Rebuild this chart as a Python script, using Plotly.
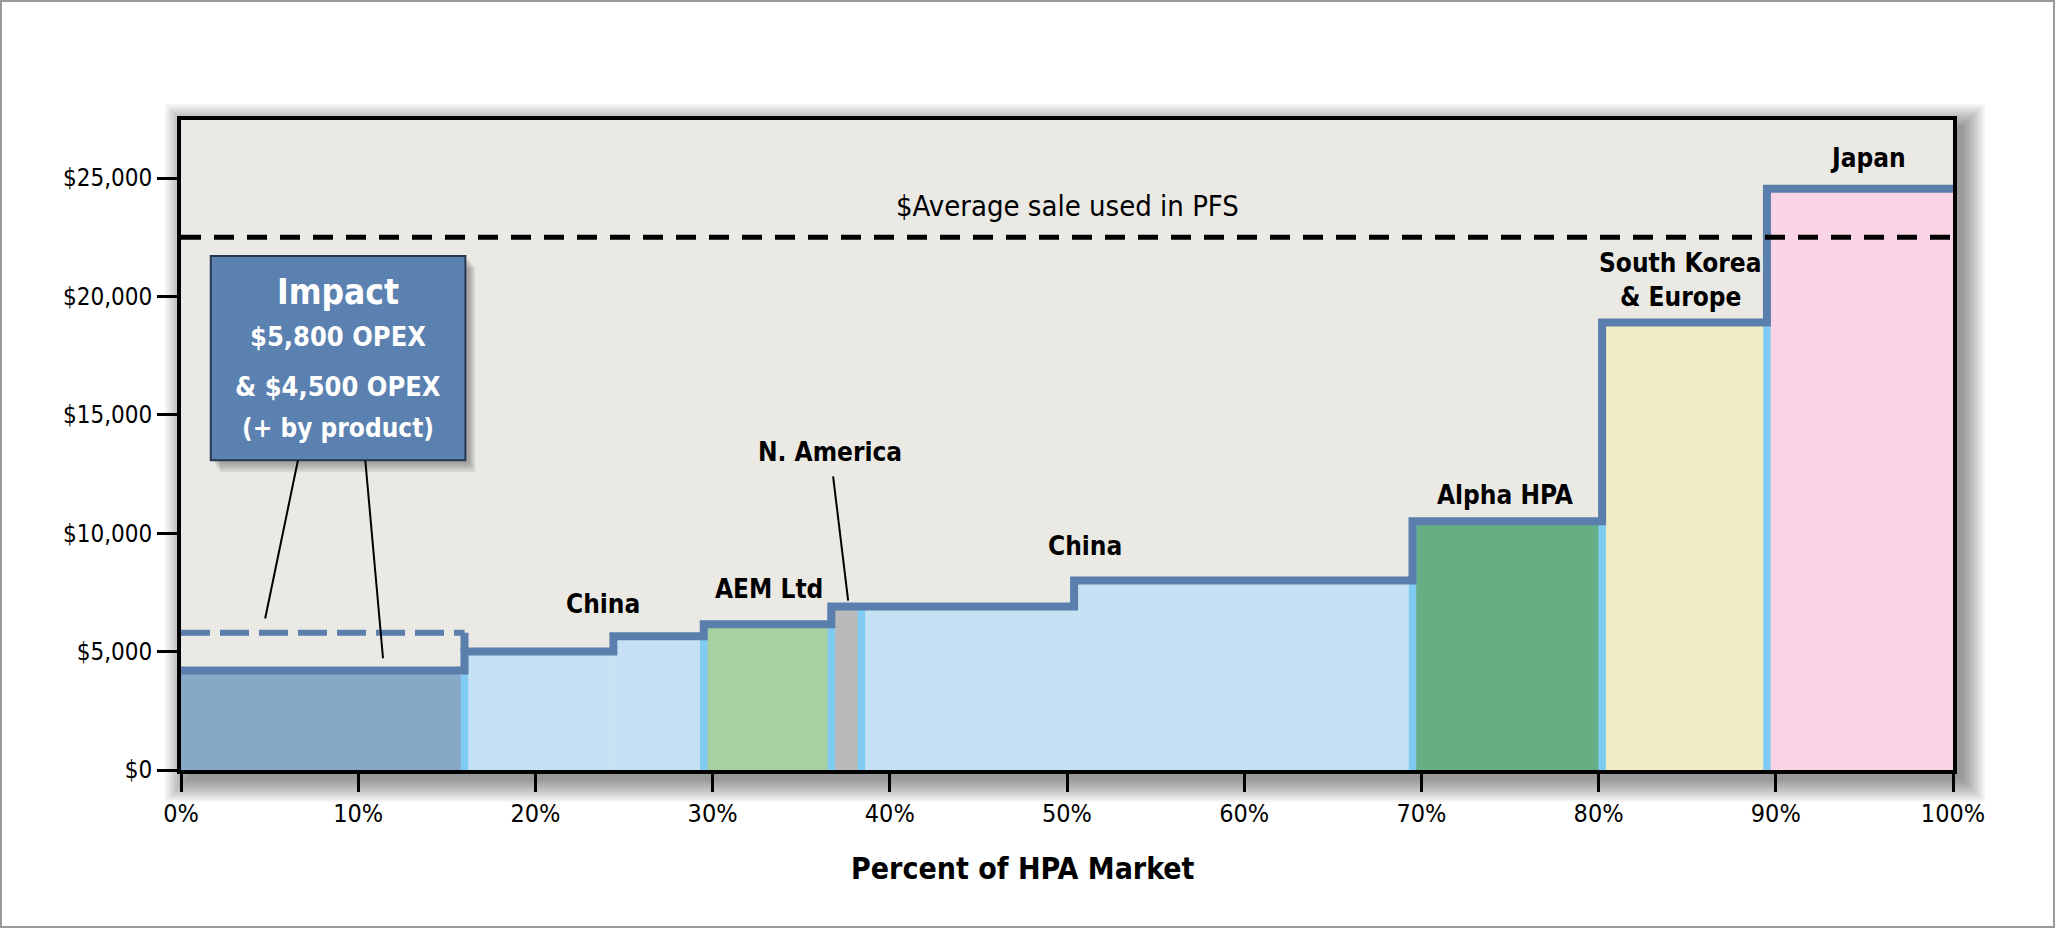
import plotly.graph_objects as go

# price steps: start of each step (% of HPA market), price ($) and supplier group
seg_start = [0, 16, 24.4, 29.5, 36.7, 38.4, 50.4, 69.5, 80.2, 89.5]
seg_end = seg_start[1:] + [100]
seg_price = [4200, 5000, 5650, 6150, 6900, 6900, 8000, 10500, 18900, 24550]
seg_region = ["Impact", "China", "China", "AEM Ltd", "N. America", "China", "China",
              "Alpha HPA", "South Korea & Europe", "Japan"]

region_colors = {
    "Impact": "#88a8c8",
    "China": "#c5e1f3",
    "AEM Ltd": "#a5d2a0",
    "N. America": "#b9b9b9",
    "Alpha HPA": "#66ae84",
    "South Korea & Europe": "#f0ecc4",
    "Japan": "#f9d3e6",
}

avg_sale = 22500          # $Average sale used in PFS
impact_opex = 5800        # Impact before by-product credit

y_ticks = [0, 5000, 10000, 15000, 20000, 25000]
y_tick_text = ["$0", "$5,000", "$10,000", "$15,000", "$20,000", "$25,000"]
x_ticks = [0, 10, 20, 30, 40, 50, 60, 70, 80, 90, 100]
x_tick_text = ["0%", "10%", "20%", "30%", "40%", "50%", "60%", "70%", "80%", "90%", "100%"]

# region labels: text, x (%), y ($)
labels = [
    ("China", 23.8, 7000),
    ("AEM Ltd", 33.2, 7650),
    ("N. America", 36.6, 13450),
    ("China", 51.0, 9480),
    ("Alpha HPA", 74.7, 11600),
    ("South Korea", 84.6, 21430),
    ("& Europe", 84.6, 19990),
    ("Japan", 95.2, 25830),
]

NARROW = "Liberation Sans Narrow, Arial Narrow, DejaVu Sans Condensed, sans-serif"
STEP_BLUE = "#5a7fac"

fig = go.Figure()

# coloured blocks
fig.add_trace(go.Bar(
    x=[(a + b) / 2 for a, b in zip(seg_start, seg_end)],
    width=[b - a for a, b in zip(seg_start, seg_end)],
    y=seg_price,
    marker=dict(color=[region_colors[r] for r in seg_region], line=dict(width=0)),
    hoverinfo="skip",
))

# light blue separators where the supplier changes
sep_x, sep_y = [], []
for i in range(1, len(seg_start)):
    if seg_region[i] != seg_region[i - 1]:
        sep_x.append(seg_start[i])
        sep_y.append(max(seg_price[i], seg_price[i - 1]))
fig.add_trace(go.Bar(
    x=sep_x, y=sep_y, width=[0.42] * len(sep_x),
    marker=dict(color="#80cbf4", line=dict(width=0)),
    hoverinfo="skip",
))

# stepped cost curve
fig.add_trace(go.Scatter(
    x=seg_start + [100], y=seg_price + [seg_price[-1]],
    mode="lines", line=dict(color=STEP_BLUE, width=8, shape="hv"),
    hoverinfo="skip",
))

# Impact without by-product credit
fig.add_trace(go.Scatter(
    x=[seg_start[0], seg_end[0]], y=[impact_opex, impact_opex],
    mode="lines", line=dict(color=STEP_BLUE, width=6, dash="29px,10px"),
    hoverinfo="skip",
))
fig.add_trace(go.Scatter(
    x=[seg_end[0], seg_end[0]], y=[seg_price[1], impact_opex],
    mode="lines", line=dict(color=STEP_BLUE, width=8),
    hoverinfo="skip",
))

# average sale price
fig.add_trace(go.Scatter(
    x=[0, 100], y=[avg_sale, avg_sale],
    mode="lines", line=dict(color="black", width=5, dash="20px,13px"),
    hoverinfo="skip",
))

# plot-area shadow, background and outer frame (pixel box 181..1953 x 120..770)
shapes = []
for s in range(24, 0, -2):
    shapes.append(dict(
        type="rect", xref="paper", yref="paper", layer="below",
        x0=(8 - s) / 1772, x1=1 + (8 + s) / 1772,
        y0=(-8 - s) / 650, y1=1 + (-8 + s) / 650,
        fillcolor="rgba(0,0,0,0.04)", line=dict(width=0),
    ))
shapes.append(dict(type="rect", xref="paper", yref="paper", layer="below",
                   x0=0, x1=1, y0=0, y1=1, fillcolor="#ebe9e4", line=dict(width=0)))
shapes.append(dict(type="rect", xref="paper", yref="paper",
                   x0=-180 / 1772, x1=1873 / 1772, y0=-157 / 650, y1=769 / 650,
                   fillcolor="rgba(0,0,0,0)", line=dict(color="#9a9a9a", width=2)))

# Impact callout box with shadow and leaders
for k in range(4):
    shapes.append(dict(type="rect", x0=1.9 + 0.1 * k, x1=16.3 + 0.1 * k,
                       y0=12900 - 110 * k, y1=21550 - 110 * k,
                       fillcolor="rgba(0,0,0,0.08)", line=dict(width=0)))
shapes.append(dict(type="rect", x0=1.68, x1=16.05, y0=13080, y1=21710,
                   fillcolor="#5a81b0", line=dict(color="#26374f", width=2)))
shapes.append(dict(type="line", x0=6.6, y0=13080, x1=4.75, y1=6400,
                   line=dict(color="black", width=2)))
shapes.append(dict(type="line", x0=10.4, y0=13080, x1=11.4, y1=4720,
                   line=dict(color="black", width=2)))
# N. America leader
shapes.append(dict(type="line", x0=36.8, y0=12400, x1=37.65, y1=7150,
                   line=dict(color="black", width=2)))

annotations = []
for text, x, y in labels:
    annotations.append(dict(x=x, y=y, text="<b>" + text + "</b>", showarrow=False,
                            font=dict(family=NARROW, size=26, color="black")))

box_lines = [("Impact", 35, 20170), ("$5,800 OPEX", 27, 18310),
             ("& $4,500 OPEX", 27, 16200), ("(+ by product)", 26, 14430)]
for text, size, y in box_lines:
    annotations.append(dict(x=8.86, y=y, text="<b>" + text + "</b>", showarrow=False,
                            font=dict(family=NARROW, size=size, color="white")))

annotations.append(dict(x=50, y=23800, text="$Average sale used in PFS", showarrow=False,
                        font=dict(family=NARROW, size=29, color="black")))
annotations.append(dict(x=0.475, y=-0.152, xref="paper", yref="paper",
                        xanchor="center", yanchor="middle",
                        text="<b>Percent of HPA Market</b>", showarrow=False,
                        font=dict(family=NARROW, size=30, color="black")))

fig.update_layout(
    width=2056, height=928,
    margin=dict(l=181, r=103, t=120, b=158),
    paper_bgcolor="white", plot_bgcolor="rgba(0,0,0,0)",
    showlegend=False, barmode="overlay",
    shapes=shapes, annotations=annotations,
    font=dict(family=NARROW, size=24, color="black"),
)
fig.update_xaxes(
    range=[0, 100], tickmode="array", tickvals=x_ticks, ticktext=x_tick_text,
    showgrid=False, zeroline=False,
    showline=True, linecolor="black", linewidth=4, mirror=True,
    ticks="outside", ticklen=18, tickwidth=2.5, tickcolor="black",
    tickfont=dict(family=NARROW, size=25),
)
fig.update_yaxes(
    range=[0, 27450], tickmode="array", tickvals=y_ticks, ticktext=y_tick_text,
    showgrid=False, zeroline=False,
    showline=True, linecolor="black", linewidth=4, mirror=True,
    ticks="outside", ticklen=20, tickwidth=2.5, tickcolor="black",
    tickfont=dict(family=NARROW, size=24),
)

# the page's default 8px body margin would shift the whole chart
fig.write_html("out.html", config={"displayModeBar": False},
               post_script="document.body.style.margin='0';")
